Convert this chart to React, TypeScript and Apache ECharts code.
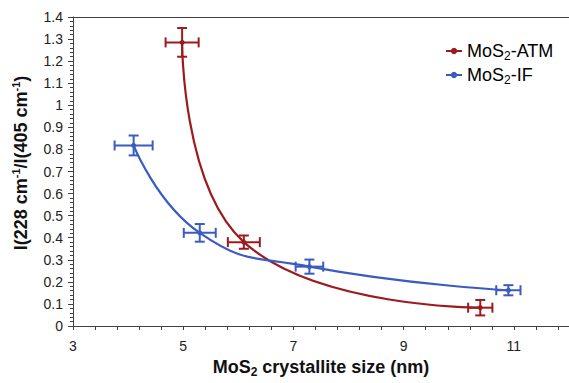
import React, { useEffect, useRef } from "react";
import * as echarts from "echarts";

const atmX = [4.98, 6.1, 10.39];
const atmY = [1.285, 0.38, 0.083];
const atmXErr = [0.3, 0.29, 0.22];
const atmYErr = [0.065, 0.03, 0.035];

const ifX = [4.1, 5.3, 7.29, 10.9];
const ifY = [0.818, 0.422, 0.269, 0.162];
const ifXErr = [0.345, 0.29, 0.25, 0.22];
const ifYErr = [0.045, 0.04, 0.032, 0.023];

const seriesNames = ["MoS2-ATM", "MoS2-IF"];
const legendLabels: Record<string, string> = {
  "MoS2-ATM": "{a|MoS}{s|2}{a|-ATM}",
  "MoS2-IF": "{a|MoS}{s|2}{a|-IF}",
};
const yTitle = "{b|I(228 cm}{sp|-1}{b|/I(405 cm}{sp|-1}{b|)}";
const xTitle = "{b|MoS}{bs|2}{b| crystallite size (nm)}";

const RED = "#9B1B1E";
const BLUE = "#3A5BC0";
const FONT = "'Liberation Sans', Arial, sans-serif";

function errSeries(xs: number[], ys: number[], ex: number[], ey: number[], color: string) {
  return {
    type: "custom",
    silent: true,
    z: 3,
    encode: { x: 0, y: 1 },
    data: xs.map((x, i) => [x, ys[i], ex[i], ey[i]]),
    renderItem: (params: any, api: any) => {
      const x = api.value(0);
      const y = api.value(1);
      const dx = api.value(2);
      const dy = api.value(3);
      const l = api.coord([x - dx, y]);
      const r = api.coord([x + dx, y]);
      const t = api.coord([x, y + dy]);
      const b = api.coord([x, y - dy]);
      const cap = 5;
      const style = { stroke: color, lineWidth: 2, fill: null };
      return {
        type: "group",
        children: [
          { type: "line", shape: { x1: l[0], y1: l[1], x2: r[0], y2: r[1] }, style },
          { type: "line", shape: { x1: l[0], y1: l[1] - cap, x2: l[0], y2: l[1] + cap }, style },
          { type: "line", shape: { x1: r[0], y1: r[1] - cap, x2: r[0], y2: r[1] + cap }, style },
          { type: "line", shape: { x1: t[0], y1: t[1], x2: b[0], y2: b[1] }, style },
          { type: "line", shape: { x1: t[0] - cap, y1: t[1], x2: t[0] + cap, y2: t[1] }, style },
          { type: "line", shape: { x1: b[0] - cap, y1: b[1], x2: b[0] + cap, y2: b[1] }, style },
        ],
      };
    },
  };
}

export default function App() {
  const ref = useRef<HTMLDivElement>(null);
  useEffect(() => {
    if (!ref.current) return;
    const chart = echarts.init(ref.current, null, { renderer: "svg" });
    const axisColor = "#404040";
    chart.setOption({
      animation: false,
      backgroundColor: "#ffffff",
      grid: { left: 73, right: -8, top: 17, bottom: 50, containLabel: false },
      graphic: [
        {
          type: "text",
          x: 21,
          y: 163,
          rotation: Math.PI / 2,
          style: {
            text: yTitle,
            align: "center",
            verticalAlign: "middle",
            fontFamily: FONT,
            fontSize: 18,
            fontWeight: "bold",
            fill: "#111",
            rich: {
              b: { fontFamily: FONT, fontSize: 18, fontWeight: "bold", fill: "#111", color: "#111", lineHeight: 22 },
              sp: { fontFamily: FONT, fontSize: 11, fontWeight: "bold", fill: "#111", color: "#111", lineHeight: 11, verticalAlign: "top" },
            },
          },
        },
      ],
      legend: {
        orient: "vertical",
        left: 440,
        top: 37,
        itemGap: 4,
        itemWidth: 16,
        itemHeight: 8,
        data: seriesNames,
        formatter: (name: string) => legendLabels[name],
        textStyle: {
          fontFamily: FONT,
          fontSize: 18,
          color: "#000",
          rich: {
            a: { fontFamily: FONT, fontSize: 18, color: "#000", lineHeight: 22 },
            s: { fontFamily: FONT, fontSize: 12, color: "#000", lineHeight: 12, verticalAlign: "bottom" },
          },
        },
      },
      xAxis: [
        {
          type: "value",
          min: 3,
          max: 12,
          interval: 2,
          position: "bottom",
          name: xTitle,
          nameLocation: "middle",
          nameGap: 30,
          nameTextStyle: {
            fontFamily: FONT,
            fontSize: 18,
            fontWeight: "bold",
            color: "#111",
            rich: {
              b: { fontFamily: FONT, fontSize: 18, fontWeight: "bold", color: "#111", lineHeight: 22 },
              bs: { fontFamily: FONT, fontSize: 12, fontWeight: "bold", color: "#111", lineHeight: 12, verticalAlign: "bottom" },
            },
          },
          axisLine: { show: true, onZero: false, lineStyle: { color: axisColor, width: 1 } },
          axisTick: { show: true, inside: false, length: 4, lineStyle: { color: axisColor } },
          minorTick: { show: true, splitNumber: 5, length: 4, lineStyle: { color: axisColor } },
          axisLabel: { fontFamily: FONT, fontSize: 14, color: "#222", margin: 13, showMaxLabel: false },
          splitLine: { show: false },
        },
        {
          type: "value",
          min: 3,
          max: 12,
          position: "top",
          axisLine: { show: true, onZero: false, lineStyle: { color: axisColor, width: 1 } },
          axisTick: { show: false },
          axisLabel: { show: false },
          splitLine: { show: false },
        },
      ],
      yAxis: {
        type: "value",
        min: 0,
        max: 1.4,
        interval: 0.1,
        axisLine: { show: true, lineStyle: { color: axisColor, width: 1 } },
        axisTick: { show: true, inside: false, length: 5, lineStyle: { color: axisColor } },
        minorTick: { show: true, splitNumber: 5, length: 3, lineStyle: { color: axisColor } },
        axisLabel: { fontFamily: FONT, fontSize: 14, color: "#222", margin: 10 },
        splitLine: { show: false },
      },
      series: [
        {
          name: seriesNames[0],
          type: "line",
          smooth: 0.5,
          data: atmX.map((x, i) => [x, atmY[i]]),
          symbol: "circle",
          symbolSize: 5,
          itemStyle: { color: RED },
          lineStyle: { color: RED, width: 2.2 },
          z: 4,
        },
        {
          name: seriesNames[1],
          type: "line",
          smooth: 0.5,
          data: ifX.map((x, i) => [x, ifY[i]]),
          symbol: "circle",
          symbolSize: 5,
          itemStyle: { color: BLUE },
          lineStyle: { color: BLUE, width: 2.2 },
          z: 4,
        },
        errSeries(atmX, atmY, atmXErr, atmYErr, RED),
        errSeries(ifX, ifY, ifXErr, ifYErr, BLUE),
      ],
    });
    return () => chart.dispose();
  }, []);
  return (
    <div
      ref={ref}
      style={{ position: "fixed", left: 0, top: 0, width: 569, height: 383, background: "#fff" }}
    />
  );
}
